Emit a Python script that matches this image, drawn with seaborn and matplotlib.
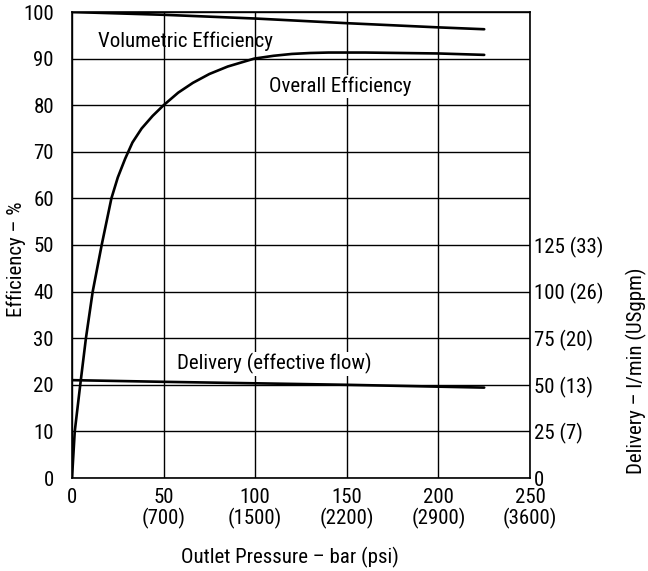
import matplotlib
matplotlib.use("Agg")
import matplotlib.pyplot as plt
import seaborn as sns
import pandas as pd

# Pump performance curves versus outlet pressure (bar)
vol_pressure = [0, 50, 100, 150, 200, 225]
vol_efficiency = [100, 99.4, 98.6, 97.6, 96.7, 96.3]

overall_pressure = [0, 1.5, 4.5, 7.6, 11.3, 16.2, 21.5, 25, 29, 33, 38, 44, 50, 58,
                    66, 75, 85, 99.5, 110, 120, 130, 140, 160, 180, 200, 225]
overall_efficiency = [0, 10, 20, 30, 40, 50, 60, 64.5, 68.5, 72, 75, 77.7, 80, 82.7,
                      84.8, 86.7, 88.3, 90, 90.6, 91.0, 91.2, 91.3, 91.3, 91.2, 91.1, 90.8]

delivery_pressure = [0, 50, 100, 150, 200, 225]
delivery_lpm = [52.5, 51.6, 50.8, 50.0, 49.0, 48.5]

x_ticks = [0, 50, 100, 150, 200, 250]
x_tick_labels = ["0", "50\n(700)", "100\n(1500)", "150\n(2200)", "200\n(2900)", "250\n(3600)"]
y_ticks = list(range(0, 101, 10))
right_ticks = [0, 25, 50, 75, 100, 125]
right_tick_labels = ["0", "25 (7)", "50 (13)", "75 (20)", "100 (26)", "125 (33)"]

sns.set_style("white")
plt.rcParams["font.family"] = ["Liberation Sans Narrow", "DejaVu Sans Condensed",
                               "Roboto Condensed", "Roboto", "DejaVu Sans"]
plt.rcParams["font.size"] = 15
for key in ("text.color", "axes.labelcolor", "xtick.color", "ytick.color"):
    plt.rcParams[key] = "black"

fig = plt.figure(figsize=(6.48, 5.71), dpi=100)
ax = fig.add_axes([72 / 648, 1 - 478 / 571, 458 / 648, 466 / 571])

vol_df = pd.DataFrame({"p": vol_pressure, "e": vol_efficiency})
ovr_df = pd.DataFrame({"p": overall_pressure, "e": overall_efficiency})
# delivery is shown on the efficiency scale: 250 l/min spans 0-100 %
del_df = pd.DataFrame({"p": delivery_pressure, "d": [d * 100 / 250 for d in delivery_lpm]})

line_kw = dict(color="black", linewidth=1.9, estimator=None, sort=False, zorder=4)
sns.lineplot(data=vol_df, x="p", y="e", ax=ax, **line_kw)
sns.lineplot(data=ovr_df, x="p", y="e", ax=ax, **line_kw)
sns.lineplot(data=del_df, x="p", y="d", ax=ax, **line_kw)

ax.set_xlim(0, 250)
ax.set_ylim(0, 100)
ax.set_xticks(x_ticks)
ax.set_xticklabels(x_tick_labels, linespacing=1.05)
ax.set_yticks(y_ticks)
ax.tick_params(axis="both", length=0, labelsize=15)
ax.tick_params(axis="y", pad=13)
ax.tick_params(axis="x", pad=7)
ax.grid(True, color="black", linewidth=1.0)
ax.set_axisbelow(True)
for s in ax.spines.values():
    s.set_color("black")
    s.set_linewidth(1.2)

ax.set_xlabel("Outlet Pressure – bar (psi)", fontsize=15)
ax.xaxis.set_label_coords(0.476, -0.148)
ax.set_ylabel("Efficiency – %", fontsize=15)
ax.yaxis.set_label_coords(-0.10, 0.47)

ax2 = ax.twinx()
ax2.set_ylim(0, 250)
ax2.set_yticks(right_ticks)
ax2.set_yticklabels(right_tick_labels)
ax2.tick_params(axis="y", length=0, pad=3, labelsize=15)
ax2.grid(False)
for s in ax2.spines.values():
    s.set_visible(False)

fig.text(636 / 648, 1 - 371 / 571, "Delivery – l/min (USgpm)", rotation=90,
         ha="center", va="center", fontsize=15)

ax.text(14.2, 93.8, "Volumetric Efficiency", ha="left", va="center", fontsize=15, zorder=5)
ax.text(107.5, 84.0, "Overall Efficiency", ha="left", va="center", fontsize=15, zorder=5,
        bbox=dict(facecolor="white", edgecolor="none", pad=1))
ax.text(57.3, 24.5, "Delivery (effective flow)", ha="left", va="center", fontsize=15, zorder=5,
        bbox=dict(facecolor="white", edgecolor="none", pad=1))

fig.savefig("out.png", dpi=100)
